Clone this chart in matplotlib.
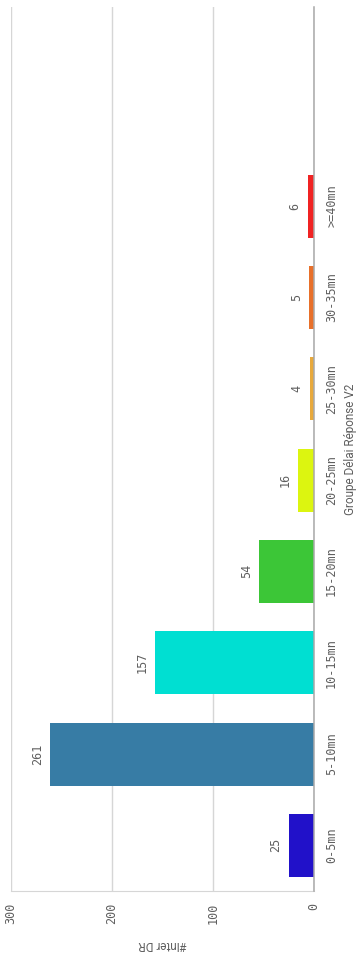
import matplotlib
matplotlib.use("Agg")
import matplotlib.pyplot as plt

categories = ["0-5mn", "5-10mn", "10-15mn", "15-20mn", "20-25mn", "25-30mn", "30-35mn", ">=40mn"]
counts = [25, 261, 157, 54, 16, 4, 5, 6]
colors = ["#2111c9", "#377ca5", "#00dfd2", "#3cc637", "#dcf510", "#e8a93c", "#e8702a", "#f02323"]
value_ticks = [0, 100, 200, 300]

MONO = "DejaVu Sans Mono"
TXT = "#5f5f5f"

W, H = 364, 958
fig = plt.figure(figsize=(W / 100, H / 100), dpi=100)
fig.patch.set_facecolor("white")

# axes box in pixels: left 10.7, right 314, top 7, bottom 891
ax = fig.add_axes([10.7 / W, (H - 891) / H, (314 - 10.7) / W, (891 - 7) / H])

pos = list(range(len(categories)))
ax.barh(pos, counts, height=0.69, color=colors, edgecolor="none", zorder=3)

# value axis runs right -> left (chart is rotated)
ax.set_xlim(300, 0)
ax.set_ylim(-0.5, 9.18)

for i, v in zip(pos, counts):
    ax.annotate(str(v), xy=(v, i), xytext=(-9.2, 0), textcoords="offset points",
                ha="center", va="center", rotation=90, fontsize=8.5,
                family=MONO, color=TXT, zorder=4)

ax.set_xticks(value_ticks)
ax.set_xticklabels([str(t) for t in value_ticks], rotation=90, family=MONO,
                   fontsize=8.5, color=TXT)
ax.tick_params(axis="x", length=0, pad=8.5)

ax.yaxis.tick_right()
ax.set_yticks(pos)
ax.set_yticklabels(categories, rotation=90, family=MONO, fontsize=8.5, color=TXT,
                   va="center", ha="left")
ax.tick_params(axis="y", length=0, pad=8)

ax.grid(axis="x", color="#d6d6d6", linewidth=1, zorder=1)
for s in ["top", "left"]:
    ax.spines[s].set_visible(False)
ax.spines["right"].set_color("#a8a8a8")
ax.spines["right"].set_linewidth(1.1)
ax.spines["right"].set_zorder(5)
ax.spines["bottom"].set_color("#d6d6d6")

ax.set_xlabel("#Inter DR", rotation=180, fontsize=8.5, color=TXT, family="Roboto")
ax.xaxis.set_label_coords(0.5, -0.061)
ax.xaxis.label.set_va("center")

ax.yaxis.set_label_position("right")
ax.set_ylabel("Groupe Délai Réponse V2", rotation=90, fontsize=8.5, color=TXT,
              family="Roboto", ha="center", va="center")
ax.yaxis.set_label_coords((350 - 10.7) / (314 - 10.7), 0.5)

fig.savefig("out.png", dpi=100, facecolor="white")
plt.close(fig)
